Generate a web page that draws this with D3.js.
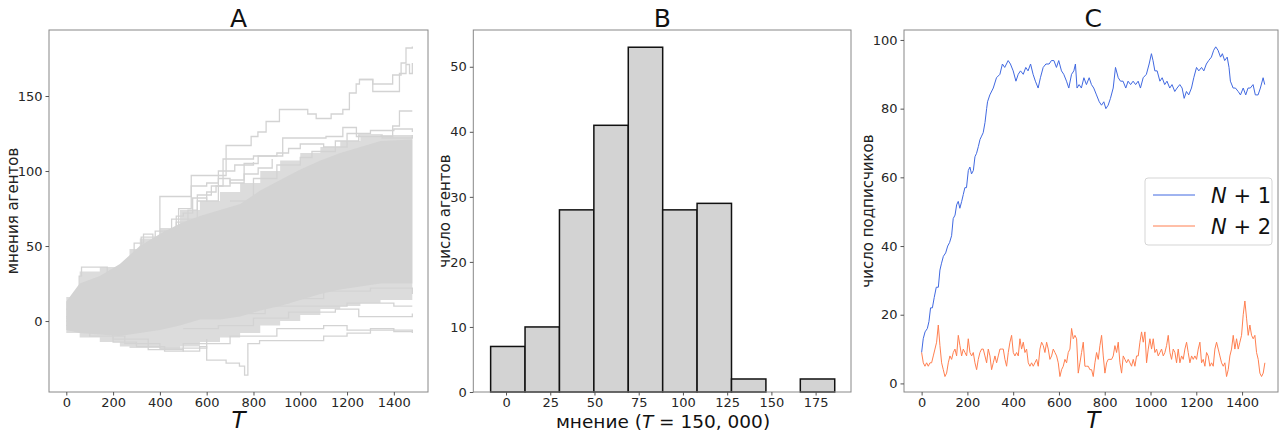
<!DOCTYPE html>
<html>
<head>
<meta charset="utf-8">
<script src="https://cdn.jsdelivr.net/npm/d3@7"></script>
<style>
body{margin:0;background:#fff}
svg{display:block}
text{font-family:"DejaVu Sans",sans-serif}
</style>
</head>
<body>
<script>
//-----------------------------DATA------------------------------//
// panel A: dense core of the agent opinions, and the lighter fringe around it
const coreT = [0,57,143,229,314,400,486,571,657,743,829,914,1000,1086,1171,1257,1343,1479];
const coreUpper = [13,25,30,38,50,58,65,70,74,78,87,94,101,107,112,116,120,121];
const coreLower = [-6,-8,-9,-10,-8,-6,-3,1,1,3,7,10,14,18,21,23,25,25];
const fringeT = [0,57,143,229,270,314,400,486,571,657,743,829,914,1000,1086,1171,1257,1343,1479];
const fringeUpper = [16,33,36,38,48,55,62,74,80,86,92,100,107,112,116,120,123,124,125];
const fringeLower = [-8,-11,-14,-17,-18,-18,-19,-17,-14,-11,-8,-3,0,4,8,10,12,14,15];

// single agents that stick out of the crowd, [T, opinion]
const walkTop1 = [[0,3],[100,14],[200,28],[300,44],[400,60],[480,75],[534,97],[626,97],[683,117],[790,123],[819,126],[854,133],[911,141],[1032,138],[1068,135],[1132,138],[1182,141],[1210,152],[1239,158],[1253,161],[1310,158],[1395,164],[1431,172],[1452,182],[1479,183]];
const walkTop2 = [[1253,161],[1310,153],[1410,153],[1424,165],[1452,171],[1467,165],[1479,172]];
const walkTop3 = [[0,2],[150,22],[300,45],[450,68],[560,84],[620,90],[670,108],[800,110],[925,122],[1110,123],[1182,129],[1240,123],[1395,130],[1424,140],[1479,140]];
const walkEarly = [[0,8],[30,14],[55,30],[65,36],[150,36],[175,33],[230,30],[300,40],[360,38]];
const walkMid1 = [[200,30],[260,40],[290,52],[330,58],[370,52],[420,60],[470,66],[520,74],[560,80],[600,86],[640,90],[700,94],[760,98],[820,102],[880,108]];
const walkMid2 = [[400,52],[470,70],[500,72],[540,82],[600,80],[650,95],[700,92],[760,105],[820,110],[900,112],[950,115],[1000,118],[1100,116],[1200,125],[1300,127],[1400,128],[1479,126]];
const walkMid3 = [[700,80],[800,95],[900,104],[1000,109],[1050,113],[1150,120],[1250,124],[1350,122],[1479,124]];
const walkMid4 = [[250,40],[320,56],[380,60],[400,83],[486,83],[534,90],[600,92],[650,100],[720,104],[800,106]];
const walkLow1 = [[0,-3],[100,-10],[250,-15],[400,-18],[500,-20],[570,-17],[600,-26],[683,-28],[740,-30],[762,-36],[776,-15],[826,-13],[1000,-13],[1100,-10],[1200,-8],[1300,-5],[1400,-7],[1479,-7]];
const walkLow2 = [[0,0],[200,-12],[350,-19],[500,-15],[700,-10],[900,-5],[1100,-3],[1200,-6],[1479,-8]];
const walkLow3 = [[500,-5],[650,-3],[800,2],[950,6],[1150,8],[1250,3],[1479,5]];
const walkLow4 = [[700,5],[850,10],[1000,10],[1200,12],[1400,10],[1479,10]];
const walkLow5 = [[800,12],[950,15],[1100,20],[1300,22],[1479,18]];
const walkLow6 = [[100,-8],[200,-14],[300,-17],[420,-20],[500,-18],[600,-12]];
const walks = [walkTop1, walkTop2, walkTop3, walkEarly, walkMid1, walkMid2, walkMid3, walkMid4,
  walkLow1, walkLow2, walkLow3, walkLow4, walkLow5, walkLow6];

// panel B: histogram at T = 150,000
const binEdges = [-8.7,10.75,30.2,49.65,69.1,88.55,108.0,127.45,146.9,166.35,185.8];
const binCounts = [7,10,28,41,53,28,29,2,0,2];

// panel C: subscribers of N+1 (blue) and N+2 (orange)
const n1T = [0,7,15,25,32,39,47,55,64,73,80,87,95,105,114,122,131,138,146,153,160,167,175,182,189,196,204,211,218,226,233,240,248,255,262,269,277,284,288,298,313,327,342,353,363,378,388,400,412,422,432,444,455,465,476,487,497,509,519,531,543,557,567,578,589,599,611,621,633,643,655,665,672,679,688,698,709,720,732,742,752,764,776,786,796,805,815,825,837,847,859,869,880,892,902,913,924,935,946,956,968,982,994,1004,1011,1019,1029,1041,1051,1062,1072,1084,1094,1106,1116,1128,1138,1147,1157,1167,1179,1189,1201,1211,1223,1233,1244,1254,1266,1276,1285,1295,1306,1314,1324,1335,1343,1349,1361,1371,1383,1393,1405,1416,1426,1436,1448,1458,1470,1480,1492,1499];
const n1Subs = [9,13,15,16,18,22,22,25,28,28,33,35,37,38,40,41,43,48,49,52,53,51,53,55,57,57,62,63,61,62,66,67,69,71,72,73,76,80,82,84,86,89,90,93,92,94,93,91,88,90,91,90,92,91,93,90,88,86,89,92,93,93,94,94,92,94,91,90,88,86,90,91,93,86,87,86,89,87,89,87,86,84,82,81,82,80,81,83,86,92,89,88,88,86,88,87,88,87,88,86,89,90,93,96,94,91,91,88,89,87,88,86,87,85,86,87,86,83,85,84,86,89,92,91,92,91,93,94,95,97,98,97,95,96,94,95,92,88,86,86,85,84,86,84,86,86,87,84,84,86,89,87];
// N+2 read every 7.28 steps of T
const n2Step = 7.28;
const n2Subs = [9,6,5,6,5,6,6,8,10,12,17,11,6,4,2,3,6,8,7,9,10,8,14,11,8,10,9,8,13,9,
  8,9,6,4,7,9,10,10,8,6,10,8,4,6,8,6,8,10,10,10,7,5,9,12,14,9,8,9,8,13,
  10,12,9,10,6,5,6,5,6,7,5,10,12,11,9,12,10,7,8,10,9,8,6,2,4,5,7,6,9,10,
  16,13,14,13,3,6,9,12,5,5,5,4,4,2,
  6,9,7,11,14,8,3,6,7,7,7,8,11,9,12,6,3,8,7,6,7,6,5,7,5,8,8,12,15,12,
  15,6,10,13,10,13,9,10,8,9,10,8,9,11,14,9,7,10,9,6,10,6,8,7,10,12,9,6,8,7,
  8,7,10,12,6,7,5,9,8,5,6,5,10,12,10,8,6,5,6,2,4,8,10,14,10,13,10,12,14,20,
  24,19,14,17,14,13,14,9,7,3,2,3,6];

const xTicksT = [0,200,400,600,800,1000,1200,1400];
const yTicksA = [0,50,100,150];
const xTicksB = [0,25,50,75,100,125,150,175];
const yTicksB = [0,10,20,30,40,50];
const yTicksC = [0,20,40,60,80,100];

//-----------------------------SETUP------------------------------//
const width = 1287, height = 432;
const plotTop = 30, plotBottom = 392;
const svg = d3.select("body").append("svg").attr("width", width).attr("height", height);

const gray = "#d3d3d3";

function frame(x0, x1) {
  svg.append("rect").attr("x", x0).attr("y", plotTop).attr("width", x1 - x0)
    .attr("height", plotBottom - plotTop).attr("fill", "none").attr("stroke", "#888").attr("stroke-width", 1);
}

function axes(xScale, yScale, xTicks, yTicks) {
  const gx = svg.append("g").attr("transform", "translate(0," + plotBottom + ")")
    .call(d3.axisBottom(xScale).tickValues(xTicks).tickSize(3.5).tickPadding(2).tickFormat(d3.format("d")));
  const gy = svg.append("g").attr("transform", "translate(" + xScale.range()[0] + ",0)")
    .call(d3.axisLeft(yScale).tickValues(yTicks).tickSize(3.5).tickPadding(3).tickFormat(d3.format("d")));
  [gx, gy].forEach(function(g) {
    g.select(".domain").remove();
    g.selectAll("line").attr("stroke", "#555");
    g.selectAll("text").attr("fill", "#262626").style("font-size", "13px")
      .style("font-family", "DejaVu Sans, sans-serif");
  });
}

function title(txt, cx) {
  svg.append("text").attr("x", cx).attr("y", 26.5).attr("text-anchor", "middle")
    .style("font-size", "25px").attr("fill", "#111").text(txt);
}

function ylabel(txt, cx) {
  svg.append("text").attr("transform", "translate(" + cx + ",211) rotate(-90)")
    .attr("text-anchor", "middle").attr("dominant-baseline", "central")
    .style("font-size", "15px").attr("fill", "#222").text(txt);
}

function tLabel(cx) {
  svg.append("text").attr("x", cx).attr("y", 428).attr("text-anchor", "middle")
    .style("font-size", "23px").style("font-style", "italic").attr("fill", "#111").text("T");
}

//-----------------------------PANEL A------------------------------//
const xA = d3.scaleLinear().domain([-74, 1546]).range([49, 428]);
const yA = d3.scaleLinear().domain([-47.3, 194]).range([plotBottom, plotTop]);

const gA = svg.append("g");
gA.append("path").datum(fringeT)
  .attr("fill", "#dcdcdc")
  .attr("d", d3.area().curve(d3.curveStepAfter).x(d => xA(d)).y0((d, i) => yA(fringeLower[i])).y1((d, i) => yA(fringeUpper[i])));

const walkLine = d3.line().curve(d3.curveStepAfter).x(d => xA(d[0])).y(d => yA(d[1]));
gA.selectAll(".walk").data(walks).enter().append("path").attr("class", "walk")
  .attr("fill", "none").attr("stroke", gray).attr("stroke-width", 1.3)
  .attr("d", walkLine);

gA.append("path").datum(coreT)
  .attr("fill", gray)
  .attr("d", d3.area().x(d => xA(d)).y0((d, i) => yA(coreLower[i])).y1((d, i) => yA(coreUpper[i])));

frame(49, 428);
axes(xA, yA, xTicksT, yTicksA);
title("A", 238.5);
ylabel("мнения агентов", 12.5);
tLabel(238.5);

//-----------------------------PANEL B------------------------------//
const xB = d3.scaleLinear().domain([-18.5, 195]).range([473.3, 851]);
const yB = d3.scaleLinear().domain([0, 55.65]).range([plotBottom, plotTop]);

svg.append("g").selectAll("rect").data(binCounts).enter().append("rect")
  .attr("x", (d, i) => xB(binEdges[i]))
  .attr("width", (d, i) => xB(binEdges[i + 1]) - xB(binEdges[i]))
  .attr("y", d => yB(d))
  .attr("height", d => yB(0) - yB(d))
  .attr("fill", gray).attr("stroke", "#111").attr("stroke-width", 1.5);

frame(473.3, 851);
axes(xB, yB, xTicksB, yTicksB);
title("B", 662.3);
ylabel("число агентов", 445);
const xlB = svg.append("text").attr("x", 663).attr("y", 427.5).attr("text-anchor", "middle")
  .style("font-size", "18.5px").attr("fill", "#111");
xlB.append("tspan").text("мнение (");
xlB.append("tspan").style("font-style", "italic").text("T");
xlB.append("tspan").text(" = 150, 000)");

//-----------------------------PANEL C------------------------------//
const xC = d3.scaleLinear().domain([-77, 1557]).range([904, 1278]);
const yC = d3.scaleLinear().domain([-2.5, 102.9]).range([plotBottom, plotTop]);

const blue = "#4169e1", coral = "#ff7f50";
svg.append("path").datum(n1Subs)
  .attr("fill", "none").attr("stroke", blue).attr("stroke-width", 1)
  .attr("d", d3.line().x((d, i) => xC(n1T[i])).y(d => yC(d)));
svg.append("path").datum(n2Subs)
  .attr("fill", "none").attr("stroke", coral).attr("stroke-width", 1)
  .attr("d", d3.line().x((d, i) => xC(i * n2Step)).y(d => yC(d)));

frame(904, 1278);
axes(xC, yC, xTicksT, yTicksC);
title("C", 1093.3);
ylabel("число подписчиков", 868.3);
tLabel(1093.3);

// legend
const legend = svg.append("g");
legend.append("rect").attr("x", 1145).attr("y", 178).attr("width", 127).attr("height", 67)
  .attr("rx", 3).attr("fill", "#fff").attr("fill-opacity", 0.8).attr("stroke", "#d5d5d5");
[["1", blue, 195], ["2", coral, 226]].forEach(function(e) {
  legend.append("line").attr("x1", 1153).attr("x2", 1195).attr("y1", e[2]).attr("y2", e[2])
    .attr("stroke", e[1]).attr("stroke-width", 1);
  const t = legend.append("text").attr("x", 1211).attr("y", e[2] + 7.5)
    .style("font-size", "21px").attr("fill", "#111");
  t.append("tspan").style("font-style", "italic").text("N");
  t.append("tspan").text(" + " + e[0]);
});
</script>
</body>
</html>
